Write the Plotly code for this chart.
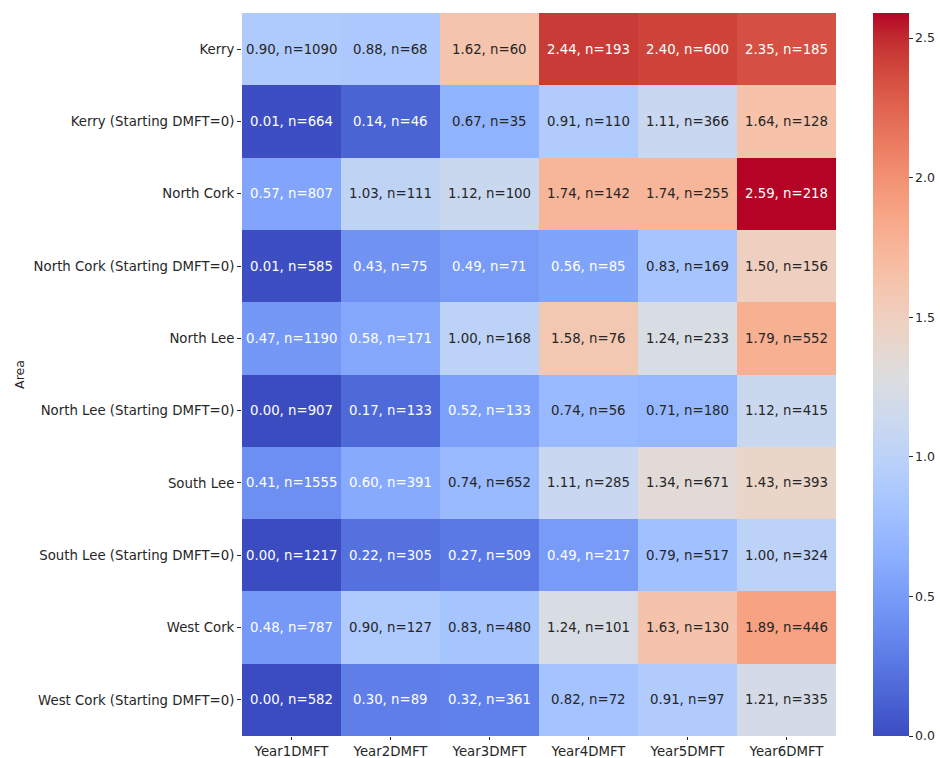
import plotly.graph_objects as go

# Mean DMFT by area and school year, with the number of children in each cell
areas = [
    "Kerry",
    "Kerry (Starting DMFT=0)",
    "North Cork",
    "North Cork (Starting DMFT=0)",
    "North Lee",
    "North Lee (Starting DMFT=0)",
    "South Lee",
    "South Lee (Starting DMFT=0)",
    "West Cork",
    "West Cork (Starting DMFT=0)",
]
years = ["Year1DMFT", "Year2DMFT", "Year3DMFT", "Year4DMFT", "Year5DMFT", "Year6DMFT"]

mean_dmft = [
    [0.90, 0.88, 1.62, 2.44, 2.40, 2.35],
    [0.01, 0.14, 0.67, 0.91, 1.11, 1.64],
    [0.57, 1.03, 1.12, 1.74, 1.74, 2.59],
    [0.01, 0.43, 0.49, 0.56, 0.83, 1.50],
    [0.47, 0.58, 1.00, 1.58, 1.24, 1.79],
    [0.00, 0.17, 0.52, 0.74, 0.71, 1.12],
    [0.41, 0.60, 0.74, 1.11, 1.34, 1.43],
    [0.00, 0.22, 0.27, 0.49, 0.79, 1.00],
    [0.48, 0.90, 0.83, 1.24, 1.63, 1.89],
    [0.00, 0.30, 0.32, 0.82, 0.91, 1.21],
]
counts = [
    [1090, 68, 60, 193, 600, 185],
    [664, 46, 35, 110, 366, 128],
    [807, 111, 100, 142, 255, 218],
    [585, 75, 71, 85, 169, 156],
    [1190, 171, 168, 76, 233, 552],
    [907, 133, 133, 56, 180, 415],
    [1555, 391, 652, 285, 671, 393],
    [1217, 305, 509, 217, 517, 324],
    [787, 127, 480, 101, 130, 446],
    [582, 89, 361, 72, 97, 335],
]
cbar_ticks = [0.0, 0.5, 1.0, 1.5, 2.0, 2.5]

# Diverging blue-white-red ramp ("coolwarm")
coolwarm_rgb = [
    (59, 76, 192), (68, 90, 204), (77, 104, 215), (87, 117, 225),
    (98, 130, 234), (108, 142, 241), (119, 154, 247), (130, 165, 251),
    (141, 176, 254), (152, 185, 255), (163, 194, 255), (174, 201, 253),
    (184, 208, 249), (194, 213, 244), (204, 217, 238), (213, 219, 230),
    (221, 221, 221), (229, 216, 209), (236, 211, 197), (241, 204, 185),
    (245, 196, 173), (247, 187, 160), (247, 177, 148), (247, 166, 135),
    (244, 154, 123), (241, 141, 111), (236, 127, 99), (229, 112, 88),
    (222, 96, 77), (213, 80, 66), (203, 62, 56), (192, 40, 47),
    (180, 4, 38),
]
nstops = len(coolwarm_rgb) - 1
colorscale = [[i / nstops, "rgb(%d,%d,%d)" % c] for i, c in enumerate(coolwarm_rgb)]

zmin = 0.0
zmax = max(max(r) for r in mean_dmft)


def cell_rgb(v):
    t = (v - zmin) / (zmax - zmin)
    t = min(max(t, 0.0), 1.0) * nstops
    i = min(int(t), nstops - 1)
    f = t - i
    a, b = coolwarm_rgb[i], coolwarm_rgb[i + 1]
    return [a[k] + (b[k] - a[k]) * f for k in range(3)]


def luminance(rgb):
    lin = []
    for c in rgb:
        c = c / 255.0
        lin.append(c / 12.92 if c <= 0.03928 else ((c + 0.055) / 1.055) ** 2.4)
    return 0.2126 * lin[0] + 0.7152 * lin[1] + 0.0722 * lin[2]


font_family = "DejaVu Sans"
ink = "#262626"
fs = 13.3

fig = go.Figure(
    go.Heatmap(
        z=mean_dmft,
        x=years,
        y=areas,
        colorscale=colorscale,
        zmin=zmin,
        zmax=zmax,
        xgap=0,
        ygap=0,
        colorbar=dict(
            x=1.0623,
            xanchor="left",
            xpad=0,
            y=0.5,
            yanchor="middle",
            ypad=0,
            len=1.0,
            lenmode="fraction",
            thickness=36,
            thicknessmode="pixels",
            outlinewidth=0,
            tickvals=cbar_ticks,
            ticktext=["%.1f" % t for t in cbar_ticks],
            ticks="outside",
            ticklen=4,
            tickwidth=1,
            tickcolor=ink,
            tickfont=dict(family=font_family, size=12.5, color=ink),
        ),
        hovertemplate="%{y}<br>%{x}: %{z:.2f}<extra></extra>",
    )
)

annotations = []
for r, area in enumerate(areas):
    for c, yr in enumerate(years):
        v = mean_dmft[r][c]
        colour = "white" if luminance(cell_rgb(v)) < 0.408 else ink
        annotations.append(
            dict(
                x=yr,
                y=area,
                xref="x",
                yref="y",
                text="%.2f, n=%d" % (v, counts[r][c]),
                showarrow=False,
                font=dict(family=font_family, size=fs, color=colour),
            )
        )

fig.update_layout(
    width=940,
    height=758,
    margin=dict(l=242, r=104, t=13, b=22, autoexpand=False),
    paper_bgcolor="white",
    plot_bgcolor="white",
    annotations=annotations,
    font=dict(family=font_family, size=fs, color=ink),
    xaxis=dict(
        showgrid=False,
        zeroline=False,
        ticks="outside",
        ticklen=3,
        tickwidth=1,
        tickcolor=ink,
        tickfont=dict(family=font_family, size=fs, color=ink),
        automargin=False,
    ),
    yaxis=dict(
        autorange="reversed",
        showgrid=False,
        zeroline=False,
        ticks="outside",
        ticklen=4,
        tickwidth=1,
        tickcolor=ink,
        tickfont=dict(family=font_family, size=fs, color=ink),
        title=dict(text="Area", font=dict(family=font_family, size=12.5, color=ink), standoff=6),
        automargin=False,
    ),
)

fig.write_html("out.html")
